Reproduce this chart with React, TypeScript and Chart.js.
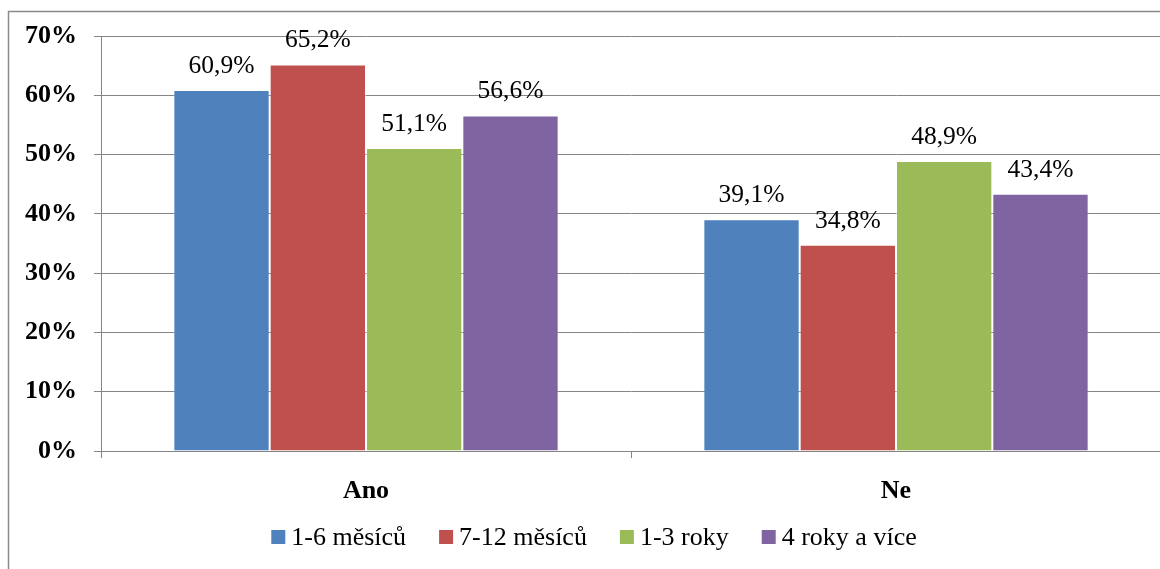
import React, { useEffect, useRef } from "react";
import { Chart, registerables } from "chart.js";

Chart.register(...registerables);

const categories = ["Ano", "Ne"];
const seriesLabels = ["1-6 měsíců", "7-12 měsíců", "1-3 roky", "4 roky a více"];
const series16 = [60.9, 39.1];
const series712 = [65.2, 34.8];
const series13 = [51.1, 48.9];
const series4plus = [56.6, 43.4];
const seriesColors = ["#4F81BD", "#C0504D", "#9BBB59", "#8064A2"];
const yTicks = [0, 10, 20, 30, 40, 50, 60, 70];

const FONT = "'Liberation Serif', 'Times New Roman', serif";
const GRID = "#858585";

const fmt = (v: number) => v.toFixed(1).replace(".", ",") + "%";

const framePlugin = {
  id: "frame",
  beforeDraw(chart: any) {
    const ctx = chart.ctx;
    ctx.save();
    ctx.fillStyle = "#ffffff";
    ctx.fillRect(0, 0, chart.width, chart.height);
    ctx.strokeStyle = "#8a8a8a";
    ctx.lineWidth = 1.5;
    ctx.strokeRect(8.5, 11.5, chart.width + 50, chart.height + 50);
    ctx.restore();
  },
};

const labelPlugin = {
  id: "barLabels",
  afterDatasetsDraw(chart: any) {
    const ctx = chart.ctx;
    ctx.save();
    ctx.font = `25.5px ${FONT}`;
    ctx.fillStyle = "#000";
    ctx.textAlign = "center";
    ctx.textBaseline = "alphabetic";
    chart.data.datasets.forEach((ds: any, i: number) => {
      const meta = chart.getDatasetMeta(i);
      meta.data.forEach((el: any, j: number) => {
        ctx.fillText(fmt(ds.data[j]), el.x, el.y - 17);
      });
    });
    ctx.restore();
  },
};

const legendPlugin = {
  id: "customLegend",
  afterDraw(chart: any) {
    const ctx = chart.ctx;
    ctx.save();
    ctx.font = `26px ${FONT}`;
    ctx.textBaseline = "middle";
    ctx.textAlign = "left";
    const box = 14;
    const gapText = 6;
    const gapItem = 33;
    const items = chart.data.datasets.map((ds: any) => ({
      label: ds.label,
      color: ds.backgroundColor,
      w: ctx.measureText(ds.label).width,
    }));
    const total =
      items.reduce((s: number, it: any) => s + box + gapText + it.w, 0) +
      gapItem * (items.length - 1);
    const cx = 594;
    const cy = 537;
    let x = cx - total / 2;
    items.forEach((it: any) => {
      ctx.fillStyle = it.color;
      ctx.fillRect(x, cy - box / 2, box, box);
      x += box + gapText;
      ctx.fillStyle = "#000";
      ctx.fillText(it.label, x, cy + 1);
      x += it.w + gapItem;
    });
    ctx.restore();
  },
};

export default function App() {
  const ref = useRef<HTMLCanvasElement | null>(null);

  useEffect(() => {
    if (!ref.current) return;
    const values = [series16, series712, series13, series4plus];
    const chart = new Chart(ref.current, {
      type: "bar",
      data: {
        labels: categories,
        datasets: seriesLabels.map((label, i) => ({
          label,
          data: values[i],
          backgroundColor: seriesColors[i],
          borderColor: "rgba(255,255,255,0.3)",
          borderWidth: 1,
          categoryPercentage: 0.727,
          barPercentage: 1,
        })),
      },
      options: {
        responsive: false,
        animation: false,
        devicePixelRatio: 1,
        layout: { padding: { top: 36, right: 0, bottom: 0, left: 0 } },
        plugins: {
          legend: { display: false },
          tooltip: { enabled: false },
        },
        scales: {
          x: {
            grid: {
              drawOnChartArea: false,
              drawTicks: true,
              tickLength: 7,
              color: GRID,
              offset: true,
            },
            border: { color: GRID, width: 1 },
            ticks: {
              font: { family: FONT, size: 26, weight: "bold" },
              color: "#000",
              padding: 18,
            },
            afterFit: (scale: any) => {
              scale.height = 118;
            },
          },
          y: {
            min: 0,
            max: 70,
            afterBuildTicks: (scale: any) => {
              scale.ticks = yTicks.map((v) => ({ value: v }));
            },
            grid: {
              color: GRID,
              tickLength: 7,
              lineWidth: 1,
            },
            border: { color: GRID, width: 1 },
            ticks: {
              font: { family: FONT, size: 26, weight: "bold" },
              color: "#000",
              padding: 17,
              callback: (v: any) => v + "%",
            },
            afterFit: (scale: any) => {
              scale.width = 101;
            },
          },
        },
      },
      plugins: [framePlugin, labelPlugin, legendPlugin],
    });
    return () => chart.destroy();
  }, []);

  return (
    <div
      style={{
        position: "fixed",
        left: 0,
        top: 0,
        width: 1160,
        height: 569,
        overflow: "hidden",
      }}
    >
      <canvas ref={ref} width={1161} height={569} style={{ display: "block" }} />
    </div>
  );
}
